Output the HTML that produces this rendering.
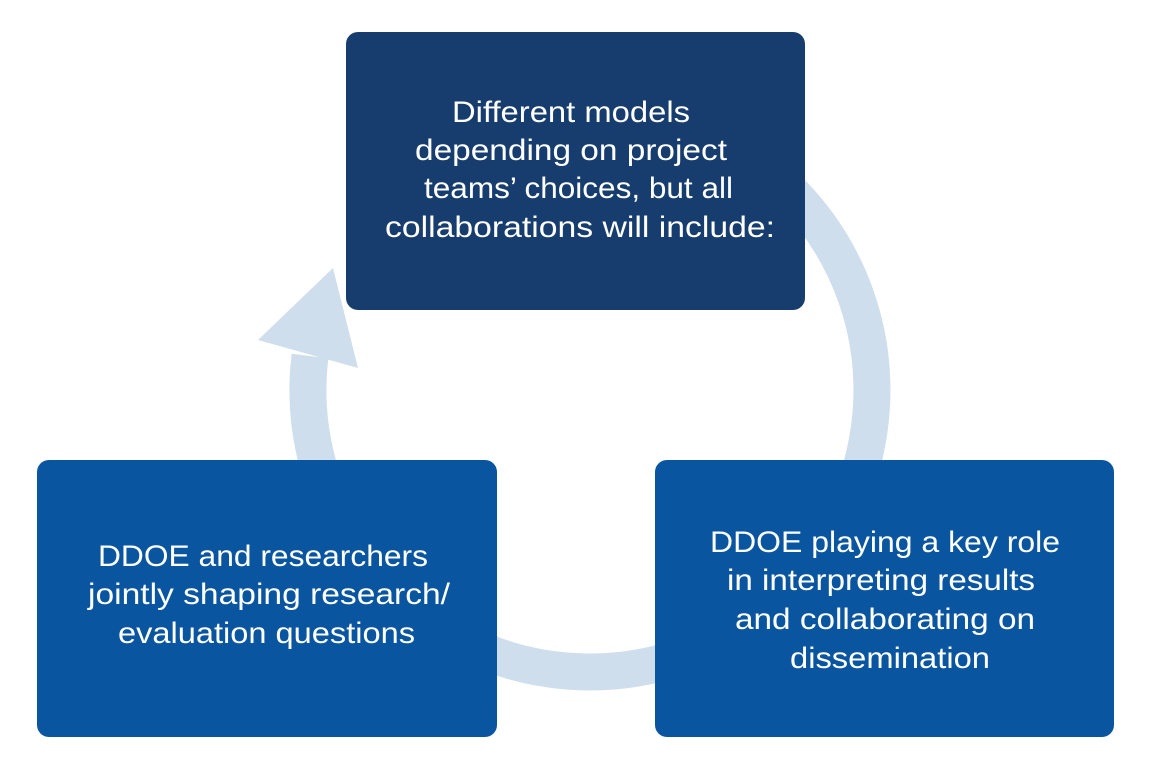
<!DOCTYPE html>
<html><head><meta charset="utf-8"><style>
html,body{margin:0;padding:0;background:#fff;}
svg{display:block}
text{font-family:"Liberation Sans",sans-serif;font-size:30px;fill:#fff}
</style></head><body>
<svg width="1149" height="776" viewBox="0 0 1149 776">
<path d="M590 108 A282 282 0 1 1 310 356" fill="none" stroke="#cfdeec" stroke-width="37"/>
<polygon points="333,268 258,340 358,368" fill="#cfdeec"/>
<rect x="346" y="32" width="459" height="278" rx="12" fill="#173d6e"/>
<rect x="37" y="460" width="460" height="277" rx="12" fill="#0a55a0"/>
<rect x="655" y="460" width="459" height="277" rx="12" fill="#0a55a0"/>
<text x="452" y="122" textLength="238" lengthAdjust="spacingAndGlyphs">Different models</text>
<text x="415" y="160" textLength="312" lengthAdjust="spacingAndGlyphs">depending on project</text>
<text x="424" y="198" textLength="309" lengthAdjust="spacingAndGlyphs">teams’ choices, but all</text>
<text x="385" y="237" textLength="390" lengthAdjust="spacingAndGlyphs">collaborations will include:</text>
<text x="98" y="566" textLength="330" lengthAdjust="spacingAndGlyphs">DDOE and researchers</text>
<text x="88" y="604" textLength="362" lengthAdjust="spacingAndGlyphs">jointly shaping research/</text>
<text x="118" y="643" textLength="297" lengthAdjust="spacingAndGlyphs">evaluation questions</text>
<text x="710" y="552" textLength="350" lengthAdjust="spacingAndGlyphs">DDOE playing a key role</text>
<text x="727" y="590" textLength="308" lengthAdjust="spacingAndGlyphs">in interpreting results</text>
<text x="735" y="629" textLength="300" lengthAdjust="spacingAndGlyphs">and collaborating on</text>
<text x="790" y="668" textLength="200" lengthAdjust="spacingAndGlyphs">dissemination</text>
</svg>
</body></html>
